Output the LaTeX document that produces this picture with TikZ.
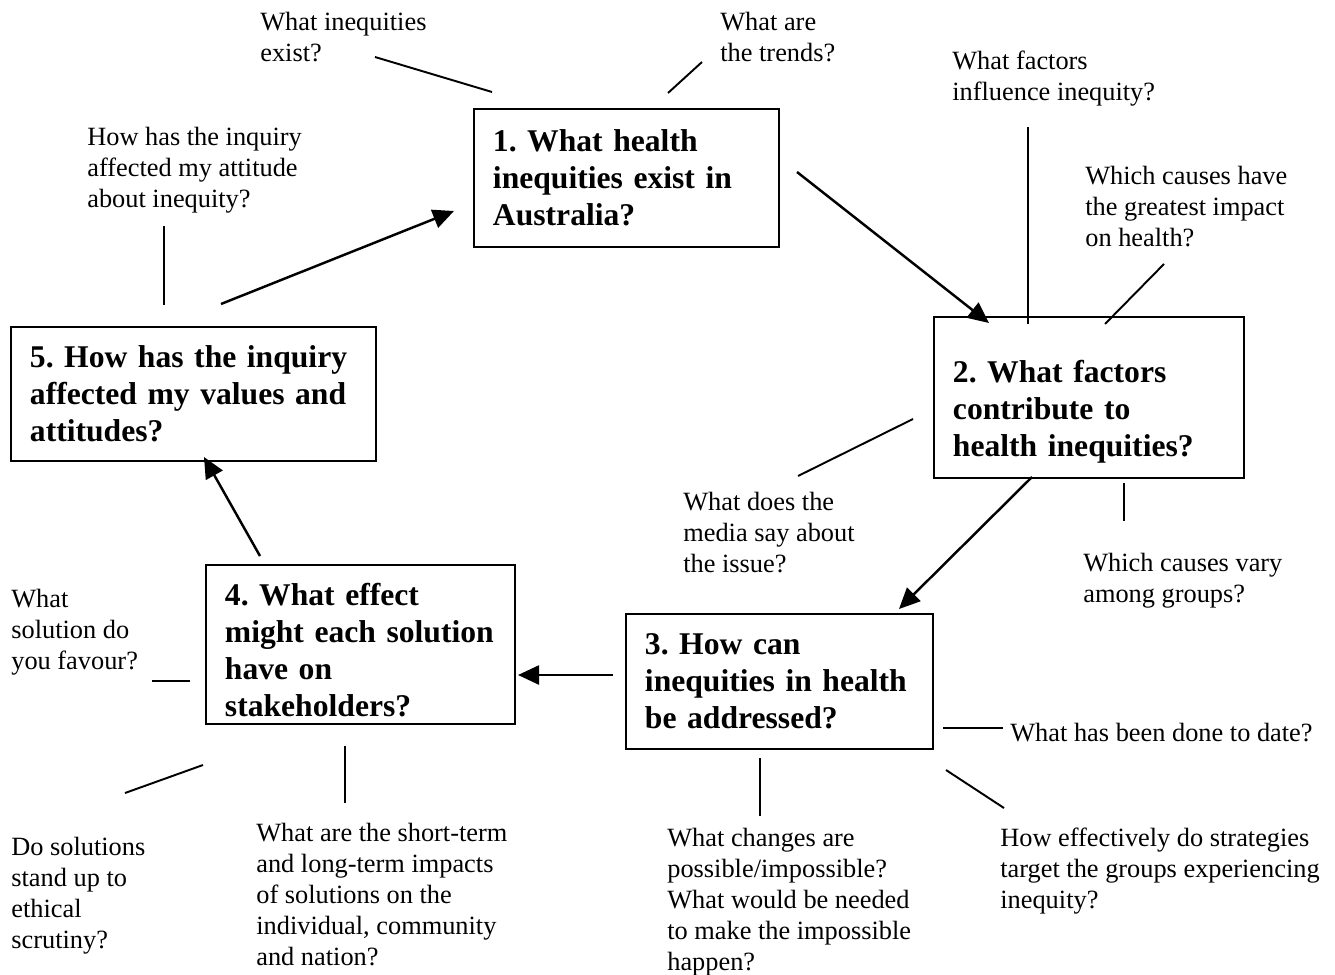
\documentclass[tikz,border=0pt]{standalone}
\usepackage{fontspec}
\setmainfont{Liberation Serif}
\usepackage{tikz}
\usetikzlibrary{arrows.meta,positioning}
\frenchspacing

\begin{document}
\begin{tikzpicture}[x=0.02cm,y=-0.02cm]
	\tikzset{
		qbox/.style={draw,line width=1.1pt,anchor=north west,align=left,
			inner xsep=0.38cm,font=\fontsize{18}{21}\selectfont\bfseries},
		ask/.style={anchor=north west,align=left,inner sep=0pt,
			font=\fontsize{15}{17.6}\selectfont},
		arr/.style={line width=1.4pt,-{Triangle[length=0.42cm,width=0.38cm]}},
		link/.style={line width=1.1pt}
	}
	\useasboundingbox (0,0) rectangle (1335,974);
	%%% the five questions
	\node[qbox,text width=5.34cm,minimum height=2.76cm] (q1) at (473,108)
		{1. What health\\inequities exist in\\Australia?};
	\node[qbox,text width=5.44cm,minimum height=3.22cm] (q2) at (933,316)
		{\rule{0pt}{1.03cm}2. What factors\\contribute to\\health inequities?};
	\node[qbox,text width=5.38cm,minimum height=2.70cm] (q3) at (625,613)
		{3. How can\\inequities in health\\be addressed?};
	\node[qbox,text width=5.42cm,minimum height=3.18cm] (q4) at (205,564)
		{\rule{0pt}{0.67cm}4. What effect\\might each solution\\have on\\stakeholders?};
	\node[qbox,text width=6.54cm,minimum height=2.68cm] (q5) at (10,326)
		{5. How has the inquiry\\affected my values and\\attitudes?};
	%%% small questions
	\node[ask] (inequ) at (260,12) {What inequities\\exist?};
	\node[ask] (trend) at (720,12) {What are\\the trends?};
	\node[ask] (factor) at (952,51) {What factors\\influence inequity?};
	\node[ask] (impact) at (1085,166) {Which causes have\\the greatest impact\\on health?};
	\node[ask] (attit) at (87,127) {How has the inquiry\\affected my attitude\\about inequity?};
	\node[ask] (media) at (683,492) {What does the\\media say about\\the issue?};
	\node[ask] (vary) at (1083,553) {Which causes vary\\among groups?};
	\node[ask] (favour) at (11,589) {What\\solution do\\you favour?};
	\node[ask] (todate) at (1010,723) {What has been done to date?};
	\node[ask] (ethic) at (11,837) {Do solutions\\stand up to\\ethical\\scrutiny?};
	\node[ask] (terms) at (256,823) {What are the short-term\\and long-term impacts\\of solutions on the\\individual, community\\and nation?};
	\node[ask] (change) at (667,828) {What changes are\\possible/impossible?\\What would be needed\\to make the impossible\\happen?};
	\node[ask] (target) at (1000,828) {How effectively do strategies\\target the groups experiencing\\inequity?};
	%%% ends of the arrows
	\coordinate (a12) at (797,172);  \coordinate (b12) at (989,323);
	\coordinate (a23) at (1032,477); \coordinate (b23) at (899,609);
	\coordinate (a34) at (613,675);  \coordinate (b34) at (518,675);
	\coordinate (a45) at (260,556);  \coordinate (b45) at (204,457);
	\coordinate (a51) at (221,304);  \coordinate (b51) at (454,211);
	\draw[arr] (a12) -- (b12);
	\draw[arr] (a23) -- (b23);
	\draw[arr] (a34) -- (b34);
	\draw[arr] (a45) -- (b45);
	\draw[arr] (a51) -- (b51);
	%%% ends of the lines
	\coordinate (inequ-a) at (375,57);   \coordinate (inequ-b) at (492,92);
	\coordinate (trend-a) at (702,62);   \coordinate (trend-b) at (668,93);
	\coordinate (factor-a) at (1028,127); \coordinate (factor-b) at (1028,324);
	\coordinate (impact-a) at (1164,264); \coordinate (impact-b) at (1105,324);
	\coordinate (attit-a) at (164,226);  \coordinate (attit-b) at (164,305);
	\coordinate (media-a) at (913,419);  \coordinate (media-b) at (798,476);
	\coordinate (vary-a) at (1124,483);  \coordinate (vary-b) at (1124,521);
	\coordinate (favour-a) at (152,681); \coordinate (favour-b) at (190,681);
	\coordinate (todate-a) at (943,728); \coordinate (todate-b) at (1003,728);
	\coordinate (ethic-a) at (125,793);  \coordinate (ethic-b) at (203,765);
	\coordinate (terms-a) at (345,746);  \coordinate (terms-b) at (345,803);
	\coordinate (change-a) at (760,758); \coordinate (change-b) at (760,816);
	\coordinate (target-a) at (946,770); \coordinate (target-b) at (1004,808);
	\foreach \n in {inequ,trend,factor,impact,attit,media,vary,favour,todate,ethic,terms,change,target}{
		\draw[link] (\n-a) -- (\n-b);
	}
\end{tikzpicture}
\end{document}
